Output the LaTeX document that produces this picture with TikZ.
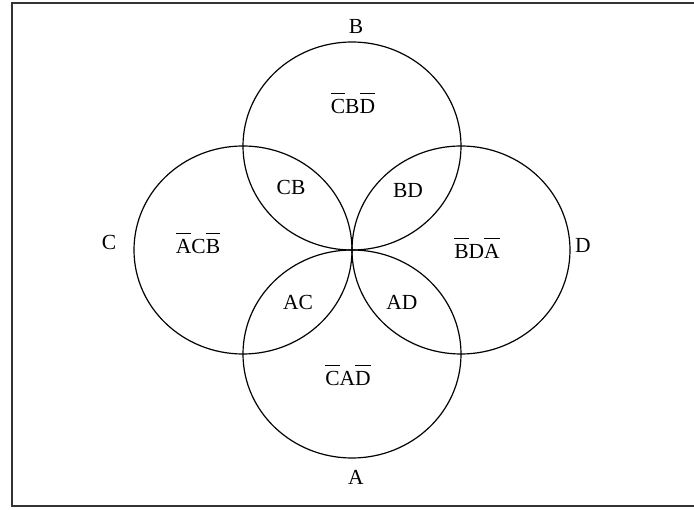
\documentclass[tikz,border=0pt]{standalone}
\usepackage{fontspec}
\setmainfont{Liberation Serif}
\usetikzlibrary{shapes.geometric}
\newsavebox{\obbox}
\newcommand{\ob}[1]{\sbox{\obbox}{#1}\leavevmode\rlap{\raisebox{\dimexpr\ht\obbox+6pt\relax}{\rule{\wd\obbox}{1.2pt}}}\usebox{\obbox}}
\begin{document}
\begin{tikzpicture}[x=1pt,y=-1pt,
  ring/.style={draw=black,line width=1.2pt,ellipse,minimum width=218pt,minimum height=208pt,inner sep=0pt},
  lbl/.style={font=\fontsize{21.5}{24}\selectfont,inner sep=0pt}]
\useasboundingbox (0,0) rectangle (694,510);
\node[draw=black!80,line width=2pt,inner sep=0pt,minimum width=683pt,minimum height=503pt,anchor=north west] (frame) at (11,2) {};
\node[ring] (cB) at (352,146) {};
\node[ring] (cA) at (352,354) {};
\node[ring] (cC) at (243,250) {};
\node[ring] (cD) at (461,250) {};
\node[lbl] (lB) at (356,26) {B};
\node[lbl] (lA) at (356,477) {A};
\node[lbl] (lC) at (109,242) {C};
\node[lbl] (lD) at (583,245) {D};
\node[lbl,anchor=base] (rB) at (353,114) {\ob{C}B\ob{D}};
\node[lbl,anchor=base] (rA) at (348,386) {\ob{C}A\ob{D}};
\node[lbl,anchor=base] (rC) at (198,254) {\ob{A}C\ob{B}};
\node[lbl,anchor=base] (rD) at (477,259) {\ob{B}D\ob{A}};
\node[lbl] (iCB) at (291,187) {CB};
\node[lbl] (iBD) at (408,190) {BD};
\node[lbl] (iAC) at (298,302) {AC};
\node[lbl] (iAD) at (402,302) {AD};
\end{tikzpicture}
\end{document}
